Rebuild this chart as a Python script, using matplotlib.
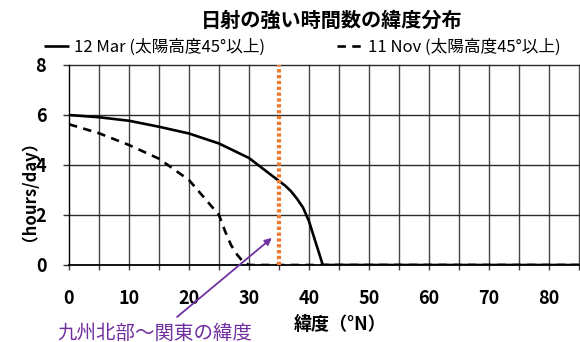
import matplotlib
matplotlib.use('Agg')
import matplotlib.pyplot as plt

plt.rcParams['font.family'] = ['Noto Sans CJK JP', 'DejaVu Sans']

# ---- data ----
lat_mar = [0, 5, 10, 15, 20, 25, 30, 35, 36, 37, 38, 39, 40, 42.3, 85]
hrs_mar = [6.0, 5.91, 5.77, 5.53, 5.26, 4.86, 4.28, 3.36, 3.18, 2.95, 2.65, 2.3, 1.75, 0.0, 0.0]
lat_nov = [0, 5, 10, 15, 20, 25, 26, 27, 28, 29, 30, 85]
hrs_nov = [5.63, 5.27, 4.8, 4.25, 3.4, 2.0, 1.36, 0.8, 0.42, 0.13, 0.0, 0.0]
label_mar = '12 Mar (太陽高度45°以上)'
label_nov = '11 Nov (太陽高度45°以上)'
region_lat = 35
arrow_target = (33.8, 1.08)
title = '日射の強い時間数の緯度分布'
xlabel = '緯度（°N）'
ylabel = '（hours/day）'
annot_text = '九州北部～関東の緯度'
xticks_major = list(range(0, 81, 10))
xgrid = list(range(0, 86, 5))
yticks = [0, 2, 4, 6, 8]

W, H = 580, 342
fig = plt.figure(figsize=(W / 100, H / 100), dpi=100)
ax = fig.add_axes([69 / W, (H - 265) / H, 510 / W, 200 / H])
ax.set_xlim(0, 85)
ax.set_ylim(0, 8)

# grid
for gx in xgrid[1:]:
    if gx == region_lat:
        continue
    ax.axvline(gx, color='#444444', lw=1.0, zorder=1, clip_on=False)
for gy in yticks[1:]:
    ax.axhline(gy, color='#2a2a2a', lw=1.0, zorder=1, clip_on=False)

for s in ['top', 'right']:
    ax.spines[s].set_visible(False)
ax.spines['left'].set_color('black')
ax.spines['left'].set_linewidth(1.0)
ax.spines['bottom'].set_color('black')
ax.spines['bottom'].set_linewidth(1.3)

ax.plot(lat_mar, hrs_mar, color='black', lw=1.9, label=label_mar, zorder=3,
        solid_capstyle='butt')
ax.plot(lat_nov, hrs_nov, color='black', lw=1.9, ls=(0, (3.2, 2.4)), label=label_nov,
        zorder=3)

ax.axvline(region_lat, color='#F07A2E', lw=3.0, ls=(0, (0.8, 0.6)), zorder=4,
           dash_capstyle='butt')

ax.set_xticks(xgrid)
ax.set_xticklabels([str(v) if v in xticks_major else '' for v in xgrid])
ax.set_yticks(yticks)
ax.tick_params(axis='x', length=3.6, width=1.0, color='#404040', pad=14, labelsize=13)
ax.tick_params(axis='y', length=4.3, width=1.0, color='#303030', pad=12, labelsize=13)
for lab in ax.get_xticklabels() + ax.get_yticklabels():
    lab.set_fontweight('bold')

fig.text(340 / W, 1 - 325 / H, xlabel, ha='center', va='center', fontsize=13,
         fontweight='bold')
fig.text(21 / W, 1 - 182 / H, ylabel, ha='center', va='center', fontsize=12,
         fontweight='bold', rotation=90)
fig.text(332 / W, 1 - 20 / H, title, ha='center', va='center', fontsize=14.5,
         fontweight='bold')

fig.legend(loc='center', bbox_to_anchor=(302 / W, 1 - 47 / H), ncol=2, frameon=False,
           fontsize=12, handlelength=1.55, handletextpad=0.3, columnspacing=4.3,
           borderpad=0, borderaxespad=0)

ax.annotate('', xy=arrow_target, xycoords='data', xytext=(177, H - 317),
            textcoords='figure pixels',
            arrowprops=dict(arrowstyle='-|>', color='#7030A0', lw=1.3,
                            mutation_scale=10, shrinkA=0, shrinkB=0),
            annotation_clip=False, zorder=5)
fig.text(155 / W, 1 - 333 / H, annot_text, ha='center', va='center', fontsize=14,
         color='#7030A0')

fig.savefig('out.png', dpi=100)
